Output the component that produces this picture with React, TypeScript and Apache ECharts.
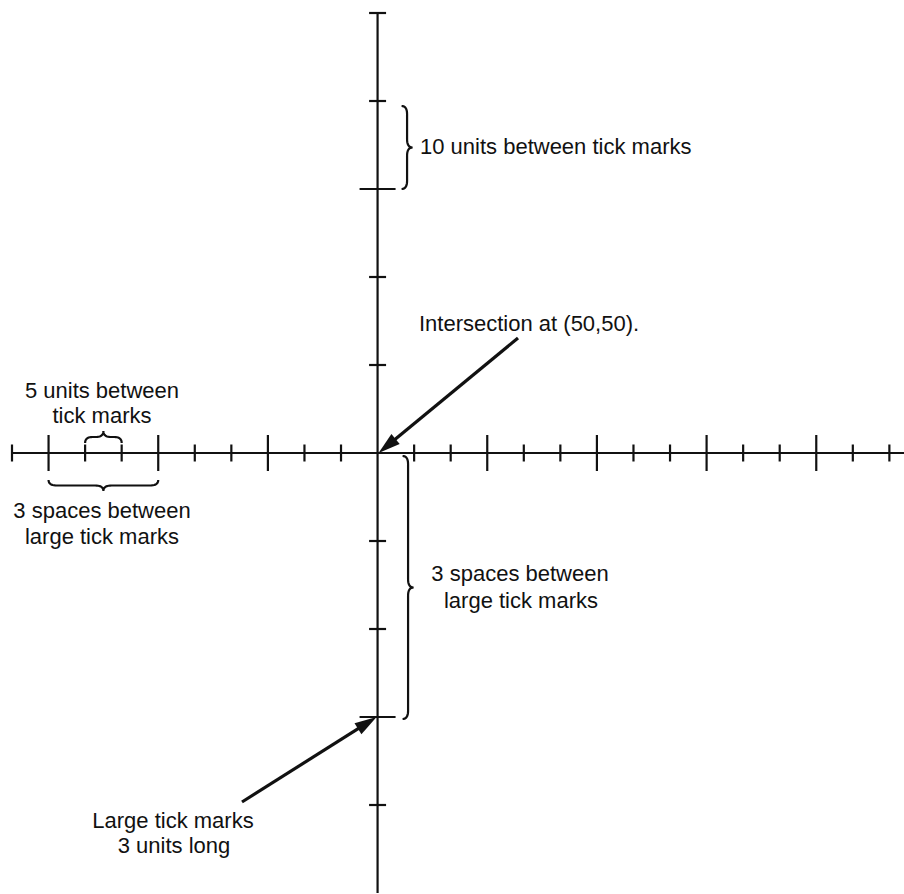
import React, { useEffect, useRef } from "react";
import * as echarts from "echarts";

// ---- data ----
const xRange = [0, 122];
const yRange = [0, 100];
const intersection = [50, 50];
const xTickValues = [0, 5, 10, 15, 20, 25, 30, 35, 40, 45, 55, 60, 65, 70, 75, 80, 85, 90, 95, 100, 105, 110, 115, 120];
const xLargeTicks = [5, 20, 35, 65, 80, 95, 110];
const yTickValues = [10, 20, 30, 40, 60, 70, 80, 90, 100];
const yLargeTicks = [20, 80];
const smallTickBrace = [10, 15]; // x values spanned by "5 units" brace
const largeTickBraceX = [5, 20]; // x values spanned by lower-left brace
const tenUnitBrace = [90, 80]; // y values spanned by "10 units" brace
const largeTickBraceY = [50, 20]; // y values spanned by lower-right brace
const largeTickTarget = [50, 20];

const TXT_10 = "10 units between tick marks";
const TXT_INT = "Intersection at (50,50).";
const TXT_5A = "5 units between";
const TXT_5B = "tick marks";
const TXT_3A = "3 spaces between";
const TXT_3B = "large tick marks";
const TXT_LA = "Large tick marks";
const TXT_LB = "3 units long";

const INK = "#111";
const FONT = '22px "Liberation Sans", Arial, sans-serif';

function bracePoints(ax: number, ay: number, bx: number, by: number, nx: number, ny: number, h: number) {
  const dx = bx - ax, dy = by - ay;
  const L = Math.hypot(dx, dy);
  const ux = dx / L, uy = dy / L;
  const r = Math.min(h * 0.75, L / 5);
  const pts: number[][] = [];
  const map = (s: number, o: number) => [ax + s * ux + o * nx, ay + s * uy + o * ny];
  const quad = (p0: number[], c: number[], p1: number[]) => {
    for (let i = 0; i <= 10; i++) {
      const t = i / 10;
      const s = (1 - t) * (1 - t) * p0[0] + 2 * (1 - t) * t * c[0] + t * t * p1[0];
      const o = (1 - t) * (1 - t) * p0[1] + 2 * (1 - t) * t * c[1] + t * t * p1[1];
      pts.push(map(s, o));
    }
  };
  const m = h / 2;
  quad([0, 0], [0, m], [r, m]);
  quad([L / 2 - r, m], [L / 2, m], [L / 2, h]);
  quad([L / 2, h], [L / 2, m], [L / 2 + r, m]);
  quad([L - r, m], [L, m], [L, 0]);
  return pts;
}

function arrow(sx: number, sy: number, tx: number, ty: number) {
  const d = Math.hypot(tx - sx, ty - sy);
  const ux = (tx - sx) / d, uy = (ty - sy) / d;
  const px = -uy, py = ux;
  const hl = 22, hw = 6.5;
  const bx = tx - ux * hl, by = ty - uy * hl;
  return [
    { type: "line", shape: { x1: sx, y1: sy, x2: bx + ux * 4, y2: by + uy * 4 }, style: { stroke: INK, lineWidth: 3.2 } },
    {
      type: "polygon",
      shape: { points: [[tx, ty], [bx + px * hw, by + py * hw], [bx - px * hw, by - py * hw]] },
      style: { fill: INK },
    },
  ];
}

function txt(text: string, x: number, y: number, align: string) {
  return {
    type: "text",
    style: { text, x, y, textAlign: align, textVerticalAlign: "middle", font: FONT, fill: INK },
  };
}

export default function App() {
  const ref = useRef<HTMLDivElement>(null);
  useEffect(() => {
    if (!ref.current) return;
    const chart = echarts.init(ref.current, null, { renderer: "svg" });
    const tickItem = (vertical: boolean) => (params: any, api: any) => {
      const c = api.coord([api.value(0), api.value(1)]);
      const h = api.value(2) ? 18 : 8.5;
      const shape = vertical
        ? { x1: c[0], y1: c[1] - h, x2: c[0], y2: c[1] + h }
        : { x1: c[0] - h, y1: c[1], x2: c[0] + h, y2: c[1] };
      return { type: "line", shape, style: { stroke: INK, lineWidth: 2.2 } };
    };
    chart.setOption({
      animation: false,
      backgroundColor: "#fff",
      grid: { left: 12, right: 0, top: 13, bottom: 1 },
      xAxis: { type: "value", min: xRange[0], max: xRange[1], show: false },
      yAxis: { type: "value", min: yRange[0], max: yRange[1], show: false },
      series: [
        {
          type: "line",
          silent: true,
          symbol: "none",
          lineStyle: { color: INK, width: 2.2 },
          data: [[xRange[0], intersection[1]], [xRange[1], intersection[1]]],
        },
        {
          type: "line",
          silent: true,
          symbol: "none",
          lineStyle: { color: INK, width: 2.2 },
          data: [[intersection[0], yRange[0]], [intersection[0], yRange[1]]],
        },
        {
          type: "custom",
          silent: true,
          clip: false,
          renderItem: tickItem(true),
          data: xTickValues.map((v) => [v, intersection[1], xLargeTicks.includes(v) ? 1 : 0]),
        },
        {
          type: "custom",
          silent: true,
          clip: false,
          renderItem: tickItem(false),
          data: yTickValues.map((v) => [intersection[0], v, yLargeTicks.includes(v) ? 1 : 0]),
        },
      ],
    });

    const P = (x: number, y: number) => chart.convertToPixel({ gridIndex: 0 }, [x, y]) as number[];
    const origin = P(intersection[0], intersection[1]);
    const ax = origin[1];
    const vx = origin[0];

    const b1a = P(smallTickBrace[0], intersection[1]);
    const b1b = P(smallTickBrace[1], intersection[1]);
    const b2a = P(largeTickBraceX[0], intersection[1]);
    const b2b = P(largeTickBraceX[1], intersection[1]);
    const b3a = P(intersection[0], tenUnitBrace[0]);
    const b3b = P(intersection[0], tenUnitBrace[1]);
    const b4a = P(intersection[0], largeTickBraceY[0]);
    const b4b = P(intersection[0], largeTickBraceY[1]);
    const tgt = P(largeTickTarget[0], largeTickTarget[1]);

    const braceStyle = { stroke: INK, lineWidth: 2.2, fill: null };
    const graphic: any[] = [
      { type: "polyline", shape: { points: bracePoints(b1a[0], ax - 10, b1b[0], ax - 10, 0, -1, 12) }, style: braceStyle },
      { type: "polyline", shape: { points: bracePoints(b2a[0], ax + 27, b2b[0], ax + 27, 0, 1, 11) }, style: braceStyle },
      { type: "polyline", shape: { points: bracePoints(vx + 24, b3a[1] + 5, vx + 24, b3b[1], 1, 0, 11) }, style: braceStyle },
      { type: "polyline", shape: { points: bracePoints(vx + 25, b4a[1] + 3, vx + 25, b4b[1] + 2, 1, 0, 11) }, style: braceStyle },
      ...arrow(518, 338, origin[0] + 1, origin[1]),
      ...arrow(242, 802, tgt[0] - 1, tgt[1]),
      txt(TXT_10, 420, 146, "left"),
      txt(TXT_INT, 419, 323, "left"),
      txt(TXT_5A, 102, 390, "center"),
      txt(TXT_5B, 102, 415, "center"),
      txt(TXT_3A, 102, 510, "center"),
      txt(TXT_3B, 102, 536, "center"),
      txt(TXT_3A, 520, 573, "center"),
      txt(TXT_3B, 521, 600, "center"),
      txt(TXT_LA, 173, 820, "center"),
      txt(TXT_LB, 174, 845, "center"),
    ];
    chart.setOption({ graphic: graphic.map((g) => ({ ...g, silent: true })) });
    return () => chart.dispose();
  }, []);
  return (
    <div
      ref={ref}
      style={{ position: "fixed", left: 0, top: 0, width: 904, height: 894, background: "#fff" }}
    />
  );
}
